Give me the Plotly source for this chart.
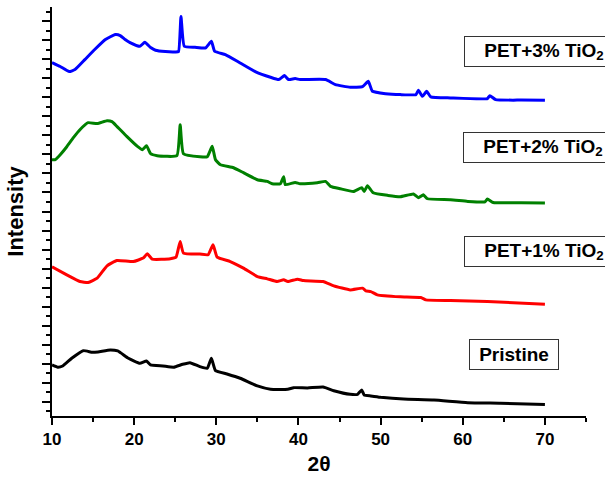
import plotly.graph_objects as go

# 2-theta positions and offset intensities (a.u.)
pristine_x = [10.0, 10.7, 11.3, 12.4, 13.8, 14.9, 15.6, 17.1, 18.0, 19.3, 20.7, 21.5, 22.0, 23.5, 24.8,
              25.9, 26.8, 28.0, 28.9, 29.4, 29.9, 31.3, 32.9, 35.0, 36.6, 38.7, 39.4, 41.1, 43.0, 44.3,
              46.3, 47.2, 47.7, 48.0, 48.8, 50.0, 52.8, 56.5, 60.6, 64.6, 70.0]
pristine_y = [387, 363, 376, 457, 537, 520, 524, 545, 534, 457, 405, 429, 387, 376, 363,
              394, 411, 369, 352, 457, 327, 292, 247, 166, 131, 131, 148, 145, 155, 116,
              78, 78, 124, 71, 61, 47, 29, 18, -10, -16, -29]

pet1_x = [10.0, 11.8, 13.4, 14.4, 15.5, 16.7, 17.9, 19.9, 21.1, 21.6, 22.2, 24.4, 25.1, 25.6, 26.0,
          28.0, 29.0, 29.6, 30.1, 31.7, 33.3, 35.0, 36.2, 37.4, 38.2, 38.7, 39.9, 40.6, 43.0, 44.3,
          46.3, 47.8, 48.2, 48.8, 49.6, 52.4, 54.9, 55.5, 58.5, 63.0, 70.0]
pet1_y = [1418, 1334, 1264, 1253, 1299, 1429, 1485, 1474, 1510, 1555, 1499, 1503, 1520, 1685, 1563,
          1552, 1545, 1650, 1520, 1474, 1405, 1316, 1292, 1264, 1282, 1264, 1289, 1274, 1264, 1218,
          1176, 1194, 1166, 1158, 1124, 1103, 1095, 1071, 1064, 1053, 1026]

pet2_x = [10.0, 10.4, 11.0, 11.8, 12.6, 13.4, 14.4, 15.5, 16.7, 17.3, 17.9, 19.1, 20.4, 21.0, 21.5,
          22.0, 22.8, 25.2, 25.6, 26.0, 28.0, 28.9, 29.5, 29.9, 30.5, 32.1, 33.3, 35.0, 36.2, 36.8,
          37.8, 38.2, 38.4, 39.6, 40.2, 42.3, 43.3, 43.9, 45.1, 46.7, 47.7, 48.0, 48.4, 49.1, 50.9,
          52.4, 54.0, 54.6, 55.2, 55.7, 58.5, 60.6, 62.7, 63.0, 63.7, 67.1, 70.0]
pet2_y = [2545, 2545, 2597, 2681, 2776, 2860, 2934, 2924, 2955, 2945, 2895, 2790, 2685, 2650, 2692,
          2608, 2587, 2587, 2913, 2608, 2576, 2576, 2685, 2545, 2492, 2460, 2408, 2334, 2316, 2292,
          2292, 2366, 2282, 2306, 2292, 2303, 2316, 2264, 2239, 2211, 2250, 2211, 2271, 2197, 2169,
          2155, 2184, 2145, 2176, 2134, 2124, 2106, 2101, 2131, 2095, 2092, 2089]

pet3_x = [10.0, 11.0, 12.1, 12.8, 14.0, 15.2, 16.5, 17.7, 18.3, 18.9, 19.5, 20.7, 21.3, 22.0, 22.6,
          23.8, 25.0, 25.4, 25.7, 26.1, 27.4, 28.7, 29.4, 29.8, 31.1, 32.9, 34.8, 36.6, 37.6, 38.3,
          38.8, 39.6, 40.2, 43.3, 44.5, 46.3, 47.8, 48.5, 49.0, 50.6, 52.4, 54.3, 54.6, 55.1, 55.6,
          56.1, 58.5, 63.0, 63.3, 64.0, 67.1, 70.0]
pet3_y = [3566, 3524, 3471, 3492, 3597, 3703, 3808, 3860, 3850, 3808, 3776, 3737, 3779, 3724, 3695,
          3681, 3678, 3681, 4050, 3737, 3727, 3720, 3790, 3685, 3650, 3562, 3468, 3411, 3387, 3429,
          3387, 3397, 3387, 3387, 3334, 3306, 3313, 3369, 3264, 3239, 3229, 3229, 3274, 3211, 3264,
          3205, 3194, 3187, 3218, 3176, 3171, 3169]

series = [
    ("Pristine", pristine_x, pristine_y, "#000000"),
    ("PET+1% TiO<sub>2</sub>", pet1_x, pet1_y, "#FF0000"),
    ("PET+2% TiO<sub>2</sub>", pet2_x, pet2_y, "#008000"),
    ("PET+3% TiO<sub>2</sub>", pet3_x, pet3_y, "#0000FF"),
]

# label boxes: (text, left x, centre y, box width)
labels = [
    ("PET+3% TiO<sub>2</sub>", 60.12, 3687, 158),
    ("PET+2% TiO<sub>2</sub>", 60.08, 2668, 158),
    ("PET+1% TiO<sub>2</sub>", 60.12, 1579, 158),
    ("Pristine", 60.7, 500, 88),
]

FONT = "Liberation Sans, Arial, Helvetica, sans-serif"

fig = go.Figure()
for name, xs, ys, col in series:
    fig.add_trace(go.Scatter(x=xs, y=ys, mode="lines", name=name,
                             line=dict(color=col, width=3, shape="spline", smoothing=0.4),
                             showlegend=False))

for text, lx, cy, w in labels:
    fig.add_annotation(x=lx, y=cy, xref="x", yref="y", xanchor="left", yanchor="middle",
                       text="<b>" + text + "</b>", showarrow=False,
                       font=dict(family=FONT, size=19, color="black"),
                       bordercolor="#333333", borderwidth=1, borderpad=0,
                       width=w, height=29, align="center", bgcolor="white")

fig.update_layout(
    width=605, height=478,
    margin=dict(l=52, r=19, t=7, b=62),
    paper_bgcolor="white", plot_bgcolor="white",
    font=dict(family=FONT, color="black"),
    xaxis=dict(range=[10, 75], dtick=10, tick0=10, showgrid=False, zeroline=False,
               showline=True, linecolor="black", linewidth=2,
               ticks="outside", ticklen=7, tickwidth=2, tickcolor="black",
               minor=dict(dtick=5, ticks="outside", ticklen=4, tickwidth=2, tickcolor="black"),
               tickfont=dict(family=FONT, size=17, color="black", weight="bold"),
               title=dict(text="<b>2θ</b>", font=dict(family=FONT, size=21, color="black"),
                          standoff=8)),
    yaxis=dict(range=[-150, 4150], dtick=200, tick0=0, showgrid=False, zeroline=False,
               showline=True, linecolor="black", linewidth=2,
               ticks="outside", ticklen=8, tickwidth=2, tickcolor="black",
               minor=dict(dtick=100, ticks="outside", ticklen=4, tickwidth=2, tickcolor="black"),
               showticklabels=False,
               title=dict(text="<b>Intensity</b>", font=dict(family=FONT, size=22, color="black"),
                          standoff=12)),
)

fig.write_html("out.html")
